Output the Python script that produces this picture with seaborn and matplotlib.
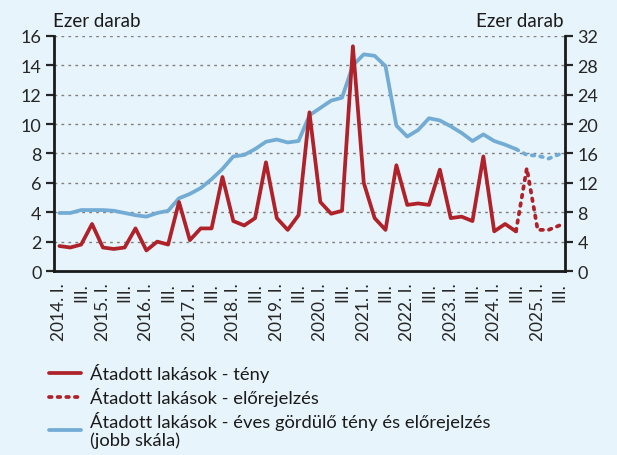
import numpy as np
import pandas as pd
import matplotlib.pyplot as plt
import seaborn as sns

# quarterly data 2014 Q1 - 2025 Q3, thousand units
quarters = [f"{y}Q{q}" for y in range(2014, 2026) for q in range(1, 5)][:47]
atadott = [1.7, 1.6, 1.8, 3.2, 1.6, 1.5, 1.6, 2.9, 1.4, 2.0, 1.8, 4.7,
           2.1, 2.9, 2.9, 6.4, 3.4, 3.1, 3.6, 7.4, 3.6, 2.8, 3.8, 10.8,
           4.7, 3.9, 4.1, 15.3, 6.0, 3.6, 2.8, 7.2, 4.5, 4.6, 4.5, 6.9,
           3.6, 3.7, 3.4, 7.8, 2.7, 3.2, 2.7]
elorejelzes = [2.7, 7.0, 2.8, 2.8, 3.1]   # 2024 Q3 (last actual) - 2025 Q3
gordulo = [7.9, 7.9, 8.3, 8.3, 8.3, 8.2, 7.9, 7.6, 7.4, 7.9, 8.2, 9.9,
           10.5, 11.3, 12.5, 13.9, 15.6, 15.8, 16.6, 17.6, 17.9, 17.5, 17.7, 21.2,
           22.2, 23.2, 23.6, 28.0, 29.5, 29.3, 27.9, 19.8, 18.3, 19.2, 20.8, 20.5,
           19.7, 18.8, 17.7, 18.6, 17.7, 17.2, 16.6]
gordulo_elo = [16.6, 15.8, 15.7, 15.3, 15.9]

bg = "#e8f4fb"
red = "#b0222a"
blue = "#72acd5"

sns.set_style("white")
plt.rcParams["font.family"] = ["Lato", "DejaVu Sans"]
plt.rcParams["font.size"] = 12.5
plt.rcParams["text.color"] = "#1a1a1a"

fig = plt.figure(figsize=(6.17, 4.56), dpi=100, facecolor=bg)
ax = fig.add_axes([0.0875, 0.4035, 0.828, 0.5154])
ax2 = ax.twinx()
ax.set_zorder(ax2.get_zorder() + 1)
ax.patch.set_visible(False)
ax2.set_facecolor(bg)

n_act = len(atadott)
x_act = np.arange(n_act)
x_fc = np.arange(n_act - 1, n_act - 1 + len(elorejelzes))

sns.lineplot(x=x_act, y=gordulo, ax=ax2, color=blue, linewidth=2.7)
sns.lineplot(x=x_fc, y=gordulo_elo, ax=ax2, color=blue, linewidth=2.7)
ax2.lines[-1].set_linestyle((0, (0.7, 1.6)))
ax2.lines[-1].set_dash_capstyle("round")

sns.lineplot(x=x_act, y=atadott, ax=ax, color=red, linewidth=2.7)
sns.lineplot(x=x_fc, y=elorejelzes, ax=ax, color=red, linewidth=2.7)
ax.lines[-1].set_linestyle((0, (0.7, 1.6)))
ax.lines[-1].set_dash_capstyle("round")

ax.set_xlim(-0.5, len(quarters) - 0.5)
ax.set_ylim(0, 16)
ax2.set_ylim(0, 32)
ax.set_yticks(range(0, 17, 2))
ax2.set_yticks(range(0, 33, 4))
ax2.yaxis.grid(True, color="#808080", linestyle=(0, (2, 3)), linewidth=1)

labels = []
for i, q in enumerate(quarters):
    if i % 2 == 0:
        labels.append(f"{q[:4]}. I." if q.endswith("Q1") else "III.")
ax.set_xticks(range(0, len(quarters), 2), labels, rotation=90)
ax.set_xticks(np.arange(-0.5, len(quarters), 1), minor=True)
ax.tick_params(axis="x", which="major", length=0, pad=8, labelsize=12.5)
ax.tick_params(axis="x", which="minor", length=6, width=1.6, direction="out")
ax.tick_params(axis="y", length=6, width=1.6, direction="out", pad=3, labelsize=13)
ax2.tick_params(axis="y", length=6, width=1.6, direction="out", pad=3, labelsize=13)
ax.set_xlabel("")
ax.set_ylabel("")
ax2.set_ylabel("")

for s in ["top", "right"]:
    ax.spines[s].set_visible(False)
for s in ["top", "left", "bottom"]:
    ax2.spines[s].set_visible(False)
ax.spines["left"].set_linewidth(2)
ax.spines["bottom"].set_linewidth(2)
ax2.spines["right"].set_linewidth(2)
for s in ["left", "bottom"]:
    ax.spines[s].set_color("#1a1a1a")
ax2.spines["right"].set_color("#1a1a1a")

fig.text(0.086, 0.952, "Ezer darab", ha="left", va="center", fontsize=13.5)
fig.text(0.913, 0.952, "Ezer darab", ha="right", va="center", fontsize=13.5)

handles = [
    plt.Line2D([], [], color=red, linewidth=2.7),
    plt.Line2D([], [], color=red, linewidth=2.7, linestyle=(0, (0.7, 1.6)), dash_capstyle="round"),
    plt.Line2D([], [], color=blue, linewidth=2.7),
]
names = ["Átadott lakások - tény",
         "Átadott lakások - előrejelzés",
         "Átadott lakások - éves gördülő tény és előrejelzés\n(jobb skála)"]
leg = fig.legend(handles, names, loc="upper left", bbox_to_anchor=(0.068, 0.218),
                 frameon=False, fontsize=13.2, handlelength=1.75, handletextpad=0.45,
                 labelspacing=0.28, borderaxespad=0)
for t in leg.get_texts():
    t.set_linespacing(1.1)

fig.savefig("out.png", dpi=100, facecolor=bg)
